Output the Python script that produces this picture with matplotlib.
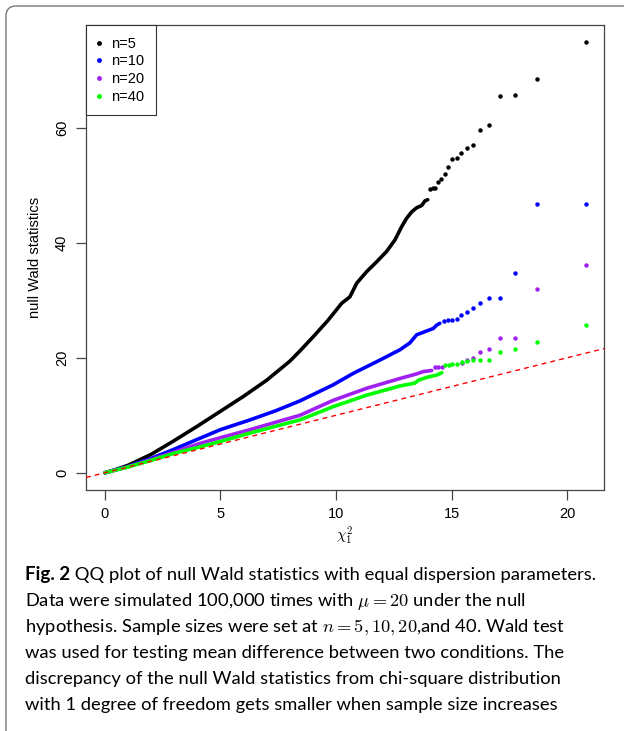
import matplotlib
matplotlib.use("Agg")
import matplotlib.pyplot as plt
from matplotlib.lines import Line2D
from matplotlib.patches import FancyBboxPatch
from matplotlib.transforms import IdentityTransform

# ---- data ----
series_labels = ["n=5", "n=10", "n=20", "n=40"]
series_colors = ["black", "blue", "#A020F0", "#00FF00"]

# dense part of each QQ curve (chi-square quantile, Wald statistic)
n5_x = [0, 0.5, 1, 2, 3, 4, 5, 6, 7, 8, 8.44, 9, 9.65, 10.25, 10.6, 10.9, 11.33,
        11.76, 12.19, 12.55, 12.84, 13.06, 13.28, 13.49, 13.71, 13.85, 13.97]
n5_y = [0, 0.6, 1.3, 3.2, 5.6, 8.1, 10.7, 13.3, 16.1, 19.4, 21.2, 23.6, 26.5, 29.5,
        30.6, 33.0, 35.0, 36.7, 38.5, 40.5, 42.8, 44.3, 45.4, 46.1, 46.5, 47.3, 47.5]
n10_x = [0, 1, 2, 3, 4.11, 5, 6.28, 7.4, 8.44, 9.88, 10.75, 11.9, 12.77, 13.2,
         13.49, 14.21, 14.36, 14.5]
n10_y = [0, 1.1, 2.5, 4.1, 6.0, 7.5, 9.2, 10.8, 12.5, 15.3, 17.3, 19.6, 21.4, 22.6,
         24.0, 25.1, 25.7, 26.0]
n20_x = [0, 1, 2, 3, 4.11, 5, 6.28, 7.4, 8.44, 9.88, 11.33, 12.77, 13.49, 13.78, 14.14]
n20_y = [0, 1.05, 2.3, 3.6, 5.1, 6.1, 7.5, 8.8, 10.0, 12.6, 14.7, 16.4, 17.2, 17.6, 17.8]
n40_x = [0, 1, 2, 3, 4.11, 5, 6.28, 7.4, 8.44, 9.88, 11.33, 12.77, 13.42, 13.57,
         13.93, 14.36, 14.58]
n40_y = [0, 1.0, 2.15, 3.4, 4.5, 5.45, 6.9, 8.1, 9.2, 11.5, 13.5, 15.1, 15.6, 16.1,
         16.6, 17.0, 17.4]

# sparse upper tail (single points)
n5_tail_x = [14.07, 14.19, 14.29, 14.43, 14.56, 14.71, 14.86, 15.02, 15.22, 15.41,
             15.66, 15.93, 16.25, 16.62, 17.1, 17.75, 18.71, 20.82]
n5_tail_y = [49.4, 49.5, 49.6, 50.5, 51.1, 51.9, 53.2, 54.5, 54.8, 55.7, 56.5, 57.1,
             59.6, 60.5, 65.5, 65.7, 68.5, 75.0]
n10_tail_x = [14.69, 14.86, 15.04, 15.22, 15.43, 15.66, 15.93, 16.25, 16.62, 17.1,
              17.75, 18.71, 20.81]
n10_tail_y = [26.4, 26.5, 26.6, 26.75, 27.4, 27.9, 28.6, 29.5, 30.35, 30.35, 34.8,
              46.7, 46.7]
n20_tail_x = [14.29, 14.43, 14.58, 15.44, 15.66, 15.94, 16.25, 16.62, 17.1, 17.75,
              18.71, 20.81]
n20_tail_y = [18.35, 18.35, 18.45, 19.15, 19.6, 19.9, 20.95, 21.5, 23.4, 23.5, 32.0, 36.2]
n40_tail_x = [14.72, 14.89, 15.04, 15.22, 15.44, 15.66, 15.94, 16.25, 16.62, 17.1,
              17.75, 18.71, 20.81]
n40_tail_y = [18.75, 18.8, 18.85, 19.0, 19.3, 19.5, 19.6, 19.6, 19.6, 21.0, 21.5,
              22.75, 25.65]

ref_intercept = 0
ref_slope = 1

x_ticks = [0, 5, 10, 15, 20]
y_ticks = [0, 20, 40, 60]

caption_bold = "Fig. 2"
caption_lines = [
    " QQ plot of null Wald statistics with equal dispersion parameters.",
    r"Data were simulated 100,000 times with $\mu=20$ under the null",
    r"hypothesis. Sample sizes were set at $n=5,10,20$,and 40. Wald test",
    "was used for testing mean difference between two conditions. The",
    "discrepancy of the null Wald statistics from chi-square distribution",
    "with 1 degree of freedom gets smaller when sample size increases",
]

plt.rcParams["font.family"] = "Liberation Sans"
plt.rcParams["mathtext.fontset"] = "cm"

W, H = 624, 731
fig = plt.figure(figsize=(W / 100, H / 100), dpi=100)

# outer rounded frame of the figure panel
frame = FancyBboxPatch((6, -40), 700, H - 6 + 40, boxstyle="round,pad=0,rounding_size=10",
                       transform=IdentityTransform(), facecolor="none",
                       edgecolor="#777777", linewidth=1.0)
fig.add_artist(frame)

ax = fig.add_axes([86 / W, 1 - 490 / H, (604 - 86) / W, (490 - 25) / H])
ax.set_xlim(-0.82, 21.6)
ax.set_ylim(-3.0, 77.9)

lw = 2.6
ms = 3.2
curves = [(n5_x, n5_y), (n10_x, n10_y), (n20_x, n20_y), (n40_x, n40_y)]
tails = [(n5_tail_x, n5_tail_y), (n10_tail_x, n10_tail_y),
         (n20_tail_x, n20_tail_y), (n40_tail_x, n40_tail_y)]
for (cx, cy), (tx, ty), col in zip(curves, tails, series_colors):
    ax.plot(cx, cy, color=col, lw=lw, solid_capstyle="round", solid_joinstyle="round")
    ax.plot(tx, ty, "o", color=col, ms=ms, mew=0)

ax.axline((0, ref_intercept), slope=ref_slope, color="red", lw=1.0,
          dashes=(3.5, 3), zorder=5)

for s in ax.spines.values():
    s.set_color("#444444")
    s.set_linewidth(0.9)

ax.set_xticks(x_ticks)
ax.set_yticks(y_ticks)
ax.tick_params(axis="both", direction="out", length=7.2, width=0.9, color="#444444",
               labelsize=10.5)
ax.tick_params(axis="x", pad=5)
ax.tick_params(axis="y", pad=5)
for lab in ax.get_yticklabels():
    lab.set_rotation(90)
    lab.set_va("center")

ax.set_xlabel(r"$\chi^2_1$", fontsize=11)
ax.xaxis.set_label_coords(0.5, -0.075)
ax.set_ylabel("null Wald statistics", fontsize=10.5)
ax.yaxis.set_label_coords(-0.085, 0.5)

handles = [Line2D([], [], ls="none", marker="o", ms=ms + 0.3, mew=0, color=c)
           for c in series_colors]
leg = ax.legend(handles, series_labels, loc="upper left", bbox_to_anchor=(0, 1),
                borderaxespad=0, fancybox=False, framealpha=1, edgecolor="#333333",
                fontsize=10.5, borderpad=0.8, labelspacing=0.25, handlelength=0.2,
                handletextpad=0.75)
leg.get_frame().set_linewidth(0.8)

# caption
cap_size = 13.2
cap_x = 25 / W
cap_y0 = 1 - 580 / H
cap_step = 26 / H
t0 = fig.text(cap_x, cap_y0, caption_bold, fontsize=cap_size + 0.3, fontweight="bold",
              family="Lato", va="baseline", ha="left")
ax.annotate(caption_lines[0], xy=(1, 0), xycoords=t0, va="bottom", ha="left",
            fontsize=cap_size, family="Lato", annotation_clip=False)
for i, line in enumerate(caption_lines[1:], start=1):
    fig.text(cap_x, cap_y0 - i * cap_step, line, fontsize=cap_size, family="Lato",
             va="baseline", ha="left")

fig.savefig("out.png", dpi=100)
